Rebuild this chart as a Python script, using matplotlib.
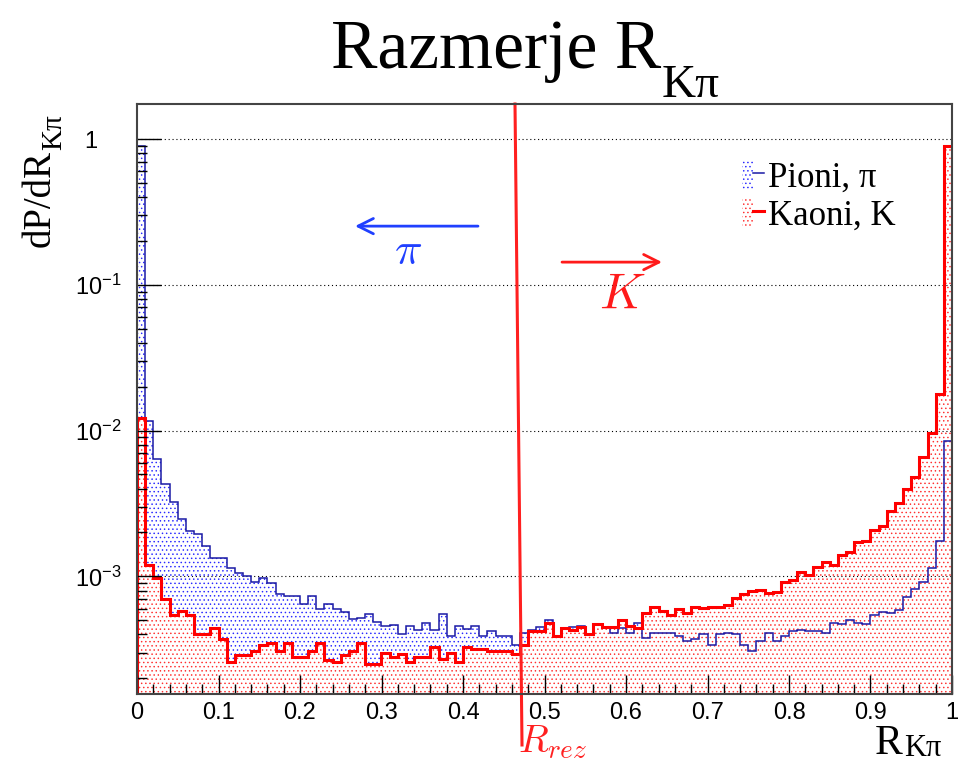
import matplotlib
matplotlib.use("Agg")
import matplotlib.pyplot as plt
import numpy as np
from matplotlib.patches import Patch
from matplotlib.lines import Line2D
from matplotlib.legend_handler import HandlerTuple
from matplotlib.ticker import MultipleLocator, LogLocator, FuncFormatter, NullFormatter

# histogram range and contents (100 bins)
R_MIN, R_MAX, N_BINS = 0.0, 1.0, 100
pion = [0.90, 0.0117, 0.0064, 0.0043, 0.00326, 0.00248, 0.00204, 0.00195, 0.00162, 0.00133,
        0.00133, 0.00115, 0.00106, 0.00101, 0.00092, 0.00098, 0.00090, 0.00076, 0.00073, 0.00073,
        0.00065, 0.00073, 0.00060, 0.00065, 0.00060, 0.00057, 0.00051, 0.00052, 0.00055, 0.00049,
        0.000456, 0.000466, 0.000403, 0.000456, 0.00043, 0.00048, 0.00043, 0.00055, 0.00039, 0.000456,
        0.000437, 0.00046, 0.00039, 0.00042, 0.00039, 0.00039, 0.00034, 0.00041, 0.00043, 0.00045,
        0.00050, 0.00039, 0.00044, 0.00045, 0.00046, 0.00040, 0.00047, 0.00045, 0.00041, 0.00044,
        0.00041, 0.00048, 0.00038, 0.00041, 0.00041, 0.00041, 0.00039, 0.00036, 0.00037, 0.00040,
        0.00034, 0.00040, 0.00041, 0.00040, 0.00034, 0.00031, 0.00036, 0.00041, 0.00036, 0.00039,
        0.00042, 0.00043, 0.00042, 0.00042, 0.00041, 0.00048, 0.00047, 0.00050, 0.00048, 0.00047,
        0.00054, 0.00057, 0.00056, 0.00059, 0.00072, 0.00082, 0.00091, 0.00114, 0.00174, 0.0085]
kaon = [0.0122, 0.0012, 0.00098, 0.00070, 0.00054, 0.00058, 0.00054, 0.00040, 0.00040, 0.00044,
        0.00037, 0.00026, 0.00029, 0.00029, 0.00031, 0.00034, 0.00035, 0.00031, 0.00035, 0.00028,
        0.00028, 0.00031, 0.00035, 0.000267, 0.000258, 0.00029, 0.00031, 0.00035, 0.00025, 0.00025,
        0.00030, 0.00028, 0.000294, 0.000258, 0.00028, 0.00028, 0.00033, 0.00027, 0.000297, 0.000258,
        0.00033, 0.00032, 0.00032, 0.00031, 0.00031, 0.00031, 0.000294, 0.00034, 0.00042, 0.00042,
        0.00048, 0.00039, 0.00044, 0.00043, 0.00045, 0.00040, 0.00047, 0.00045, 0.00045, 0.00050,
        0.00046, 0.00044, 0.00056, 0.000615, 0.00058, 0.00054, 0.00060, 0.00056, 0.00062, 0.00061,
        0.00062, 0.000615, 0.00064, 0.00071, 0.00076, 0.00080, 0.00081, 0.00077, 0.00078, 0.00091,
        0.00095, 0.00108, 0.00103, 0.00116, 0.00125, 0.00120, 0.00141, 0.00146, 0.00173, 0.00175,
        0.00208, 0.00223, 0.0028, 0.0032, 0.00396, 0.00477, 0.00655, 0.0096, 0.0179, 0.90]
Y_MIN, Y_MAX = 1.56e-4, 1.74
y_major = [1e-3, 1e-2, 1e-1, 1.0]
labels = ["Pioni, π", "Kaoni, K"]

SERIF = ["Liberation Serif", "DejaVu Serif"]
PI_LINE, PI_DOT = "#1a1aa6", "#2a2aff"
K_LINE, K_DOT = "#ff0000", "#ff3030"
ARROW_BLUE, ARROW_RED = "#2040ff", "#ff1a1a"

plt.rcParams["font.family"] = ["Liberation Sans", "DejaVu Sans"]
plt.rcParams["hatch.linewidth"] = 0.55

W, H = 958, 764
fig = plt.figure(figsize=(W / 100, H / 100), dpi=100)
ax = fig.add_axes([137 / W, 1 - 694 / H, (952 - 137) / W, (694 - 104) / H])

edges = np.linspace(R_MIN, R_MAX, N_BINS + 1)
pion = np.array(pion)
kaon = np.array(kaon)
floor = 1e-6
pion_ext = np.append(pion, pion[-1])
kaon_ext = np.append(kaon, kaon[-1])

# dotted fills: red under the kaon line, blue only where the pions stick out above it
ax.fill_between(edges, kaon_ext, floor, step="post",
                facecolor="none", edgecolor=K_DOT, hatch="....", linewidth=0)
ax.fill_between(edges, pion_ext, np.minimum(pion_ext, kaon_ext), step="post",
                facecolor="none", edgecolor=PI_DOT, hatch="....", linewidth=0)
ax.stairs(pion, edges, baseline=floor, color=PI_LINE, linewidth=1.1)
ax.stairs(kaon, edges, baseline=floor, color=K_LINE, linewidth=2.2)

ax.set_yscale("log")
ax.set_xlim(R_MIN, R_MAX)
ax.set_ylim(Y_MIN, Y_MAX)

ax.xaxis.set_major_locator(MultipleLocator(0.1))
ax.xaxis.set_minor_locator(MultipleLocator(0.02))
ax.xaxis.set_major_formatter(FuncFormatter(lambda v, p: f"{v:g}"))
ax.yaxis.set_major_locator(LogLocator(base=10, numticks=10))
ax.yaxis.set_minor_locator(LogLocator(base=10, subs=np.arange(2, 10), numticks=20))
ax.yaxis.set_minor_formatter(NullFormatter())


def log_label(v, pos):
    if abs(v - 1) < 1e-9:
        return "1\u2002\u2002"
    return r"$\mathdefault{10^{%d}}$" % int(round(np.log10(v)))


ax.yaxis.set_major_formatter(FuncFormatter(log_label))
ax.tick_params(axis="both", which="both", direction="in", top=False, right=False, labelsize=17, width=1)
ax.tick_params(axis="x", which="major", length=13.5, pad=6)
ax.tick_params(axis="x", which="minor", length=7)
ax.tick_params(axis="y", which="major", length=17, pad=11)
ax.tick_params(axis="y", which="minor", length=7.5)
for s in ax.spines.values():
    s.set_color("#444444")
    s.set_linewidth(1.5)

for yv in y_major:
    ax.axhline(yv, color="black", lw=0.8, ls=(0, (1, 2.5)), zorder=0.5)

# cut line and arrows
ax.plot([0.4638, 0.4724], [1.0, -0.0864], transform=ax.transAxes, clip_on=False,
        color="#ff2020", lw=2.2)
ax.text(0.4675, -0.05, r"$R_{rez}$", transform=ax.transAxes, ha="left", va="top",
        fontsize=28, color="#ff2020", math_fontfamily="cm")
ax.annotate("", xy=(0.2675, 0.793), xytext=(0.4184, 0.793), xycoords="axes fraction",
            arrowprops=dict(arrowstyle="->,head_length=0.5,head_width=0.25", color=ARROW_BLUE,
                            lw=2, mutation_scale=22, shrinkA=0, shrinkB=0))
ax.annotate("", xy=(0.6442, 0.732), xytext=(0.5215, 0.732), xycoords="axes fraction",
            arrowprops=dict(arrowstyle="->,head_length=0.5,head_width=0.25", color=ARROW_RED,
                            lw=2, mutation_scale=22, shrinkA=0, shrinkB=0))
ax.text(0.3325, 0.749, r"$\pi$", transform=ax.transAxes, ha="center", va="center",
        fontsize=33, color=ARROW_BLUE, math_fontfamily="cm")
ax.text(0.596, 0.676, r"$K$", transform=ax.transAxes, ha="center", va="center",
        fontsize=36, color=ARROW_RED, math_fontfamily="cm")

# legend: dotted box with the line through it
h_pi = (Patch(facecolor="none", edgecolor=PI_DOT, hatch="....", linewidth=0),
        Line2D([], [], color=PI_LINE, lw=1.1))
h_k = (Patch(facecolor="none", edgecolor=K_DOT, hatch="....", linewidth=0),
       Line2D([], [], color=K_LINE, lw=2.2))
ax.legend([h_pi, h_k], labels, handler_map={tuple: HandlerTuple(ndivide=None)},
          loc="upper left", bbox_to_anchor=(0.742, 0.905), frameon=False,
          prop={"family": SERIF, "size": 25}, handlelength=0.65, handleheight=0.9,
          handletextpad=0.1, labelspacing=0.1, borderpad=0, borderaxespad=0)

# title and axis titles with ROOT-like low subscripts
fig.text(661 / W, 1 - 68 / H, "Razmerje R", ha="right", va="baseline", fontsize=50, family=SERIF)
fig.text(662 / W, 1 - 97 / H, "Kπ", ha="left", va="baseline", fontsize=34, family=SERIF)
fig.text(903 / W, 1 - 754 / H, "R", ha="right", va="baseline", fontsize=30, family=SERIF)
fig.text(904 / W, 1 - 756 / H, "Kπ", ha="left", va="baseline", fontsize=22, family=SERIF)
fig.text(40 / W, 1 - 150 / H, "dP/dR", rotation=90, ha="center", va="top", fontsize=28, family=SERIF)
fig.text(54 / W, 1 - 150 / H, "Kπ", rotation=90, ha="center", va="bottom", fontsize=21, family=SERIF)

fig.savefig("out.png", dpi=100)
